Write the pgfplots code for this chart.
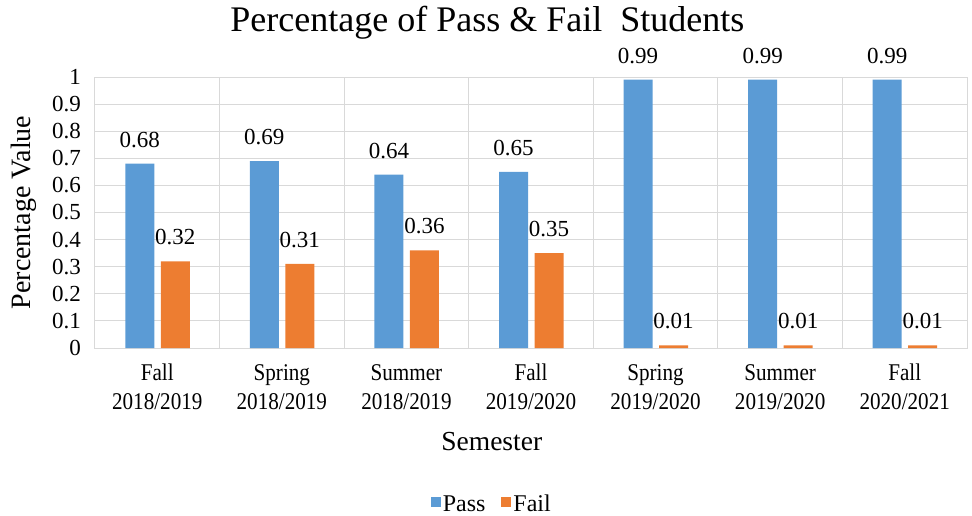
\documentclass[border=0pt]{standalone}
\usepackage{pgfplots}
\pgfplotsset{compat=1.18}
\usepackage{pgfplotstable}
\usepackage{fontspec}
\setmainfont{Liberation Serif}
\newfontfamily\cond{Liberation Serif}[FakeStretch=0.88]
\definecolor{passblue}{HTML}{5B9BD5}
\definecolor{failorange}{HTML}{ED7D31}
\definecolor{gridgray}{HTML}{D9D9D9}
\pgfplotstableread{
x pass fail
0 0.68 0.32
1 0.69 0.31
2 0.64 0.36
3 0.65 0.35
4 0.99 0.01
5 0.99 0.01
6 0.99 0.01
}\data
\begin{document}
\begin{tikzpicture}
\path[use as bounding box] (0pt,0pt) rectangle (972pt,515pt);
\begin{axis}[
  at={(95pt,167pt)}, anchor=south west,
  scale only axis, width=872pt, height=271pt,
  xmin=-0.5, xmax=6.5, ymin=0, ymax=1,
  /pgf/number format/assume math mode=true,
  /pgf/number format/fixed, /pgf/number format/precision=2,
  axis line style={draw=gridgray, line width=1pt},
  xtick={0,1,2,3,4,5,6},
  xticklabels={{Fall\\2018/2019},{Spring\\2018/2019},{Summer\\2018/2019},{Fall\\2019/2020},{Spring\\2019/2020},{Summer\\2019/2020},{Fall\\2020/2021}},
  minor xtick={0.5,1.5,2.5,3.5,4.5,5.5},
  xminorgrids=true,
  ytick={0,0.1,0.2,0.3,0.4,0.5,0.6,0.7,0.8,0.9,1},
  yticklabels={0,0.1,0.2,0.3,0.4,0.5,0.6,0.7,0.8,0.9,1},
  ymajorgrids=true,
  grid style={draw=gridgray, line width=1pt},
  minor grid style={draw=gridgray, line width=1pt},
  major tick length=0pt, minor tick length=0pt,
  tick style={draw=none},
  xticklabel style={align=center, font=\cond\fontsize{24}{29}\selectfont, inner sep=0pt, anchor=north, yshift=-16pt},
  yticklabel style={font=\fontsize{23}{27}\selectfont, inner sep=0pt, anchor=east, xshift=-14pt},
  ylabel={Percentage Value},
  ylabel style={at={(axis description cs:-0.082,0.5)}, anchor=center, rotate=0, font=\fontsize{28}{32}\selectfont},
  xlabel={Semester},
  xlabel style={at={(axis description cs:0.455,-0.344)}, anchor=center, font=\fontsize{27.5}{31}\selectfont},
  title={Percentage of Pass \& Fail\ \ Students},
  title style={at={(axis description cs:0.45,1.1476)}, anchor=base, inner sep=0pt, font=\fontsize{36}{40}\selectfont},
  legend style={at={(axis description cs:0.455,-0.576)}, anchor=center, draw=none, fill=none, font=\fontsize{24}{27}\selectfont, legend columns=2, /tikz/every even column/.append style={column sep=14pt}},
  legend image code/.code={\fill[#1] (0pt,-3pt) rectangle (10pt,7pt);},
  nodes near coords={\pgfmathprintnumber[fixed,precision=2,assume math mode=true]{\pgfplotspointmeta}},
  every node near coord/.append style={font=\fontsize{23}{27}\selectfont, anchor=south, inner sep=0pt, yshift=16pt, text=black},
]
\addplot[ybar, bar width=29pt, bar shift=-17.5pt, fill=passblue, draw=none,
  every node near coord/.append style={xshift=-17.5pt}] table[x=x, y=pass] {\data};
\addlegendentry{Pass}
\addplot[ybar, bar width=29pt, bar shift=18pt, fill=failorange, draw=none,
  every node near coord/.append style={xshift=18pt}] table[x=x, y=fail] {\data};
\addlegendentry{Fail}
\end{axis}
\end{tikzpicture}
\end{document}
